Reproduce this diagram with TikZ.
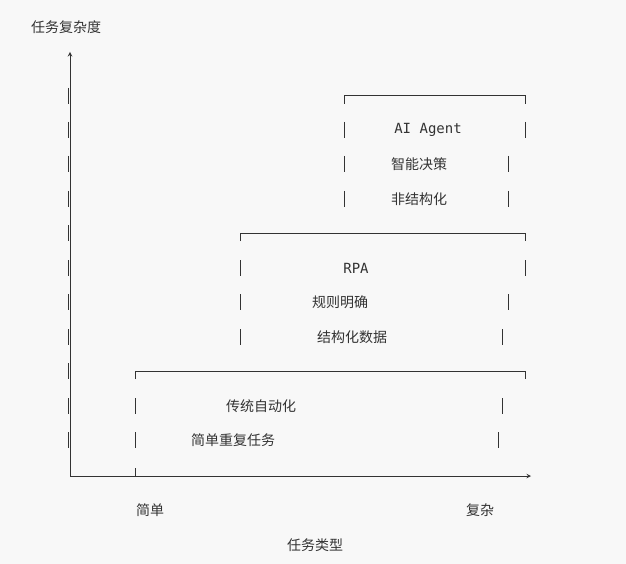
\documentclass[tikz,border=0pt]{standalone}
\usepackage{fontspec}
\setmainfont{Noto Sans CJK SC}
\setmonofont{DejaVu Sans Mono}
\usetikzlibrary{positioning}
\definecolor{bgray}{RGB}{248,248,248}
\definecolor{inkgray}{RGB}{51,51,51}
\tikzset{
  lbl/.style={text=inkgray, font=\fontsize{14}{16}\selectfont, inner sep=0pt},
  code/.style={text=inkgray, font=\ttfamily\fontsize{14}{16}\selectfont, inner sep=0pt},
  rule/.style={draw=inkgray, line width=1pt},
}
\newcommand{\vbar}[2]{\draw[rule] (#1,#2-8) -- (#1,#2+8);}
\begin{document}
\begin{tikzpicture}[x=1pt, y=-1pt]
\fill[bgray] (0,0) rectangle (626,564);
\useasboundingbox (0,0) rectangle (626,564);

% axes
\node[lbl] (ylabel) at (66,27) {任务复杂度};
\draw[rule, ->, >=stealth] (70,476) -- (70,52);
\draw[rule, ->, >=stealth] (70,476) -- (531,476);
\foreach \y in {96,130,164,199,233,268,302,337,371,406,440} {\vbar{68}{\y}}

% AI Agent
\draw[rule] (344,104) -- (344,96) -- (525,96) -- (525,104);
\foreach \y in {130,164,199} {\vbar{344}{\y}}
\vbar{525}{130} \vbar{508}{164} \vbar{508}{199}
\node[code] (ai) at (428,130) {AI Agent};
\node[lbl] (ai1) at (419,164) {智能决策};
\node[lbl] (ai2) at (419,199) {非结构化};

% RPA
\draw[rule] (240,241) -- (240,233) -- (525,233) -- (525,241);
\foreach \y in {268,302,337} {\vbar{240}{\y}}
\vbar{525}{268} \vbar{508}{302} \vbar{502}{337}
\node[code] (rpa) at (356,268) {RPA};
\node[lbl] (rpa1) at (340,302) {规则明确};
\node[lbl] (rpa2) at (352,337) {结构化数据};

% traditional
\draw[rule] (135,379) -- (135,371) -- (525,371) -- (525,379);
\foreach \y in {406,440} {\vbar{135}{\y}}
\vbar{502}{406} \vbar{498}{440}
\node[lbl] (tr1) at (261,406) {传统自动化};
\node[lbl] (tr2) at (233,440) {简单重复任务};
\draw[rule] (135,468) -- (135,476);

% x labels
\node[lbl] (simple) at (150,510) {简单};
\node[lbl] (complex) at (480,510) {复杂};
\node[lbl] (xlabel) at (315,545) {任务类型};
\end{tikzpicture}
\end{document}
